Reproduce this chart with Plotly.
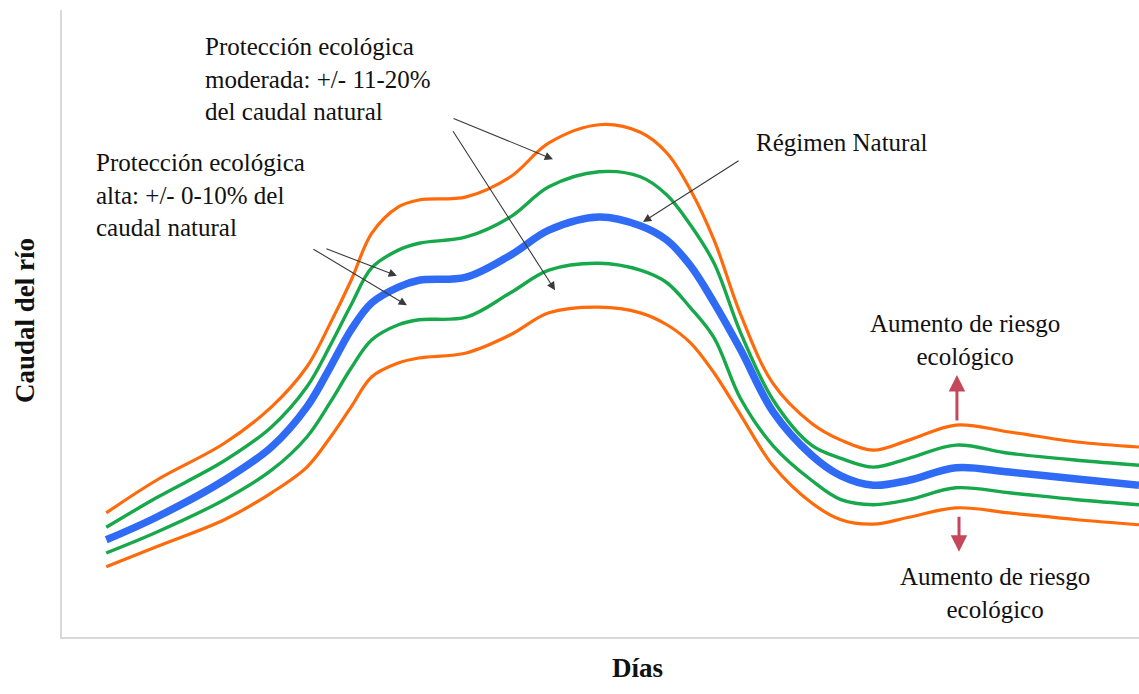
import plotly.graph_objects as go

# Days (arbitrary annual scale) and river flow (arbitrary units)
dias = [15, 32, 55, 71, 83, 91, 98, 105, 114, 121, 137, 152, 165, 182, 196, 205,
        213, 221, 230, 241, 254, 264, 275, 287, 303, 321, 344, 365]

regimen_natural = [15.5, 19.1, 25.0, 30.3, 36.7, 43.1, 49.0, 53.3, 55.8, 56.9, 57.4, 60.9,
                   64.9, 67.0, 65.6, 63.3, 59.2, 53.3, 45.8, 35.9, 29.0, 25.7, 24.2, 25.0,
                   27.0, 26.3, 25.2, 24.2]
alta_sup = [17.5, 22.2, 28.1, 33.5, 39.9, 46.6, 53.0, 58.9, 61.7, 62.8, 63.8, 67.0,
            71.8, 74.2, 73.4, 70.5, 65.7, 59.6, 48.5, 37.8, 30.6, 28.5, 27.1, 28.5,
            30.6, 29.3, 28.2, 27.4]
alta_inf = [13.4, 16.7, 21.9, 26.6, 31.9, 37.5, 42.9, 47.4, 49.8, 50.6, 51.0, 54.9,
            58.5, 59.6, 58.5, 56.5, 52.5, 47.7, 38.0, 30.5, 25.0, 21.9, 21.1, 21.9,
            23.8, 23.0, 21.9, 21.1]
moderada_sup = [19.8, 25.0, 30.9, 36.7, 43.1, 50.1, 56.9, 64.4, 68.6, 69.7, 70.2, 73.4,
                78.8, 81.7, 80.5, 77.2, 71.3, 63.3, 51.4, 40.4, 34.1, 31.4, 29.8, 31.4,
                33.8, 32.7, 31.1, 30.3]
moderada_inf = [11.2, 14.4, 18.7, 23.0, 27.1, 31.9, 36.7, 41.5, 43.7, 44.5, 45.3, 48.2,
                51.7, 52.6, 51.7, 49.8, 46.9, 42.1, 35.4, 27.3, 21.4, 18.7, 18.0, 19.1,
                20.6, 19.8, 18.7, 17.9]

ORANGE = "#FF6A0A"
GREEN = "#17A84B"
BLUE = "#2F6BF5"
FONT = "Liberation Serif"

fig = go.Figure()
series = [
    (moderada_sup, ORANGE, 3.2),
    (moderada_inf, ORANGE, 3.2),
    (alta_sup, GREEN, 3.4),
    (alta_inf, GREEN, 3.4),
    (regimen_natural, BLUE, 7.5),
]
for ys, col, w in series:
    fig.add_trace(go.Scatter(x=dias, y=ys, mode="lines",
                             line=dict(color=col, width=w, shape="spline", smoothing=1.0),
                             showlegend=False, hoverinfo="skip"))

txt_font = dict(family=FONT, size=25, color="#111111")
ann = []
# text labels
ann.append(dict(x=47.8, y=96.7, xref="x", yref="y", xanchor="left", yanchor="top",
                text="Protección ecológica<br>moderada: +/- 11-20%<br>del caudal natural",
                showarrow=False, align="left", font=txt_font))
ann.append(dict(x=11.0, y=78.2, xref="x", yref="y", xanchor="left", yanchor="top",
                text="Protección ecológica<br>alta: +/- 0-10% del<br>caudal natural",
                showarrow=False, align="left", font=txt_font))
ann.append(dict(x=234.5, y=78.8, xref="x", yref="y", xanchor="left", yanchor="middle",
                text="Régimen Natural", showarrow=False, align="left", font=txt_font))
ann.append(dict(x=306.0, y=47.4, xref="x", yref="y", xanchor="center", yanchor="middle",
                text="Aumento de riesgo<br>ecológico", showarrow=False, align="center", font=txt_font))
ann.append(dict(x=316.2, y=7.0, xref="x", yref="y", xanchor="center", yanchor="middle",
                text="Aumento de riesgo<br>ecológico", showarrow=False, align="center", font=txt_font))

# black pointer arrows (tip, tail)
arrows = [
    ((166.4, 76.2), (132.2, 82.8)),
    ((167.1, 55.3), (132.2, 80.9)),
    ((113.5, 57.6), (89.1, 62.0)),
    ((116.9, 52.9), (84.7, 62.0)),
    ((196.9, 66.2), (229.8, 76.1)),
]
for (tx, ty), (sx, sy) in arrows:
    ann.append(dict(x=tx, y=ty, ax=sx, ay=sy, xref="x", yref="y", axref="x", ayref="y",
                    text="", showarrow=True, arrowhead=2, arrowsize=1.5, arrowwidth=1.1,
                    arrowcolor="#3a3a3a"))
# red risk arrows
for (tx, ty), (sx, sy) in [((303.3, 41.8), (303.3, 34.3)), ((304.0, 13.6), (304.0, 19.4))]:
    ann.append(dict(x=tx, y=ty, ax=sx, ay=sy, xref="x", yref="y", axref="x", ayref="y",
                    text="", showarrow=True, arrowhead=2, arrowsize=1.1, arrowwidth=3,
                    arrowcolor="#C4475C"))

# axis titles
title_font = dict(family=FONT, size=27, color="#111111")
ann.append(dict(x=-0.0344, y=0.5056, xref="paper", yref="paper", xanchor="center", yanchor="middle",
                text="<b>Caudal del río</b>", textangle=-90, showarrow=False, font=title_font))
ann.append(dict(x=0.5348, y=-0.0494, xref="paper", yref="paper", xanchor="center", yanchor="middle",
                text="<b>Días</b>", showarrow=False, font=title_font))

fig.update_layout(
    width=1139, height=694,
    margin=dict(l=62, r=0, t=10, b=57),
    paper_bgcolor="white", plot_bgcolor="white",
    annotations=ann,
    xaxis=dict(range=[0, 365], showgrid=False, zeroline=False, showticklabels=False,
               ticks="", showline=True, linecolor="#d9d9d9", linewidth=2, fixedrange=True),
    yaxis=dict(range=[0, 100], showgrid=False, zeroline=False, showticklabels=False,
               ticks="", showline=True, linecolor="#d9d9d9", linewidth=2, fixedrange=True),
)

fig.write_html("out.html", config={"displayModeBar": False},
               post_script="document.body.style.margin='0';document.body.style.overflow='hidden';")
